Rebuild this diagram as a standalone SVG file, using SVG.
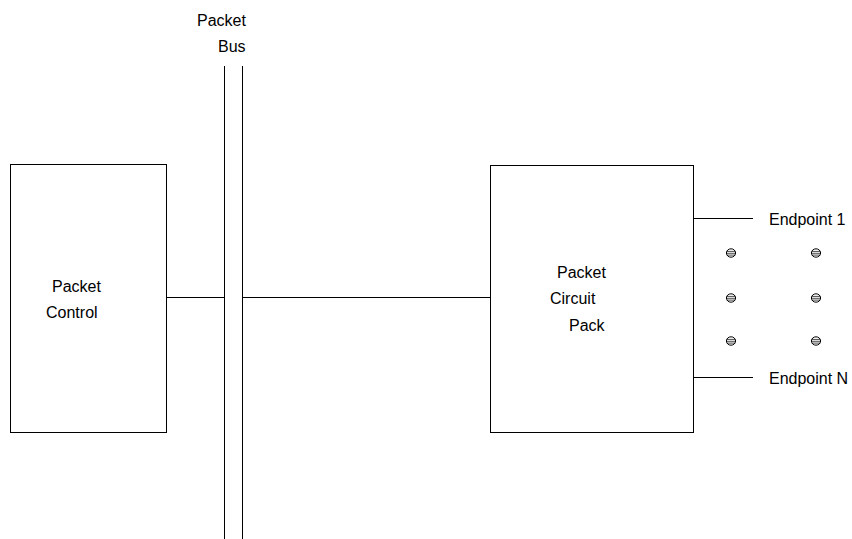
<svg xmlns="http://www.w3.org/2000/svg" width="852" height="539" viewBox="0 0 852 539">
<style>
.box{fill:#fff;stroke:#000;stroke-width:1}
.ln{stroke:#000;stroke-width:1;fill:none}
.t{font-family:"Liberation Sans",Arial,sans-serif;font-size:16px;fill:#000}
.dot{fill:#fff;stroke:#000;stroke-width:1}
.hl{stroke:#000;stroke-width:0.7;fill:none}
</style>
<defs>
<g id="dotsym">
<ellipse cx="0" cy="0" rx="4.6" ry="4.2" class="dot"/>
<line x1="-4.4" y1="-1.6" x2="4.4" y2="-1.6" class="hl"/>
<line x1="-4.6" y1="0.3" x2="4.6" y2="0.3" class="hl"/>
<line x1="-4.2" y1="2.1" x2="4.2" y2="2.1" class="hl"/>
</g>
</defs>
<g id="connectors">
<line x1="166" y1="297.5" x2="224" y2="297.5" class="ln"/>
<line x1="242" y1="297.5" x2="490" y2="297.5" class="ln"/>
<line x1="693" y1="218.5" x2="753" y2="218.5" class="ln"/>
<line x1="693" y1="377.5" x2="753" y2="377.5" class="ln"/>
</g>
<g id="bus">
<line x1="224.5" y1="66" x2="224.5" y2="539" class="ln"/>
<line x1="242.5" y1="66" x2="242.5" y2="539" class="ln"/>
<text x="197" y="26" class="t">Packet</text>
<text x="218" y="52" class="t">Bus</text>
</g>
<g id="packet-control">
<rect x="10.5" y="164.5" width="156" height="268" class="box"/>
<text x="52" y="292" class="t">Packet</text>
<text x="46" y="318" class="t">Control</text>
</g>
<g id="packet-circuit-pack">
<rect x="490.5" y="165.5" width="203" height="267" class="box"/>
<text x="557" y="278" class="t">Packet</text>
<text x="550" y="304" class="t">Circuit</text>
<text x="569" y="331" class="t">Pack</text>
</g>
<g id="endpoint-1">
<text x="769" y="225" class="t">Endpoint 1</text>
</g>
<g id="endpoint-n">
<text x="769" y="384" class="t">Endpoint N</text>
</g>
<g id="ellipsis-dots">
<use href="#dotsym" x="731" y="253"/>
<use href="#dotsym" x="816" y="253"/>
<use href="#dotsym" x="731" y="298"/>
<use href="#dotsym" x="816" y="298"/>
<use href="#dotsym" x="731" y="341"/>
<use href="#dotsym" x="816" y="341"/>
</g>
</svg>
